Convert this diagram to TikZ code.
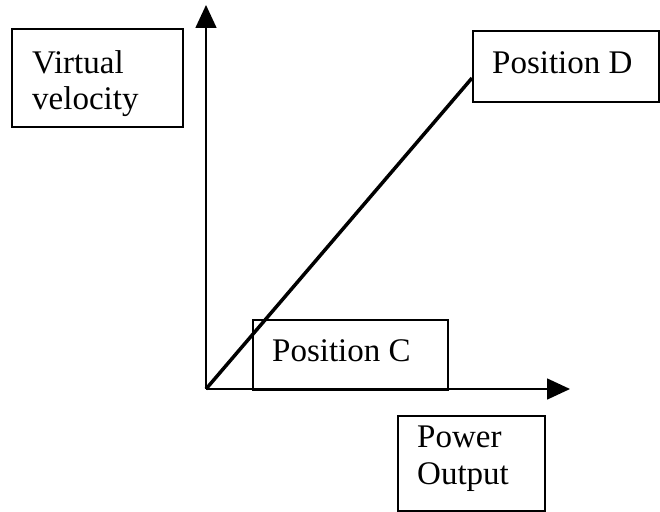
\documentclass[tikz,border=0pt]{standalone}
\usepackage{fontspec}
\setmainfont{Liberation Serif}
\usetikzlibrary{arrows.meta}
\begin{document}
\begin{tikzpicture}[x=1pt,y=-1pt,
  labelbox/.style={draw, line width=2pt, rectangle, anchor=north west, inner sep=0pt},
  label/.style={anchor=base west, inner sep=0pt, font=\fontsize{33}{39}\selectfont},
  axis/.style={line width=1.6pt, -{Triangle[length=23pt,width=21pt]}},
  trend/.style={line width=3.5pt}]
\useasboundingbox (0,0) rectangle (660,511);

% axes
\coordinate (O) at (206,389);
\coordinate (ytop) at (206,5);
\coordinate (xend) at (570,389);
\draw[axis] (O) -- (ytop);
\draw[axis] (O) -- (xend);

% label boxes
\node[labelbox, minimum width=171pt, minimum height=98pt] (vv) at (11,28) {};
\node[labelbox, minimum width=186pt, minimum height=71pt] (pd) at (472,30) {};
\node[labelbox, minimum width=195pt, minimum height=70pt] (pc) at (252,319) {};
\node[labelbox, minimum width=147pt, minimum height=95pt] (po) at (397,415) {};

% texts
\node[label] (t1) at (32,74) {Virtual};
\node[label] (t2) at (32,109) {velocity};
\node[label] (t3) at (492,73) {Position D};
\node[label] (t4) at (272,361) {Position C};
\node[label] (t5) at (417,447) {Power};
\node[label] (t6) at (417,484) {Output};

% linear relation from origin to Position D
\draw[trend] (O) -- (pd.west |- 0,78);
\end{tikzpicture}
\end{document}
